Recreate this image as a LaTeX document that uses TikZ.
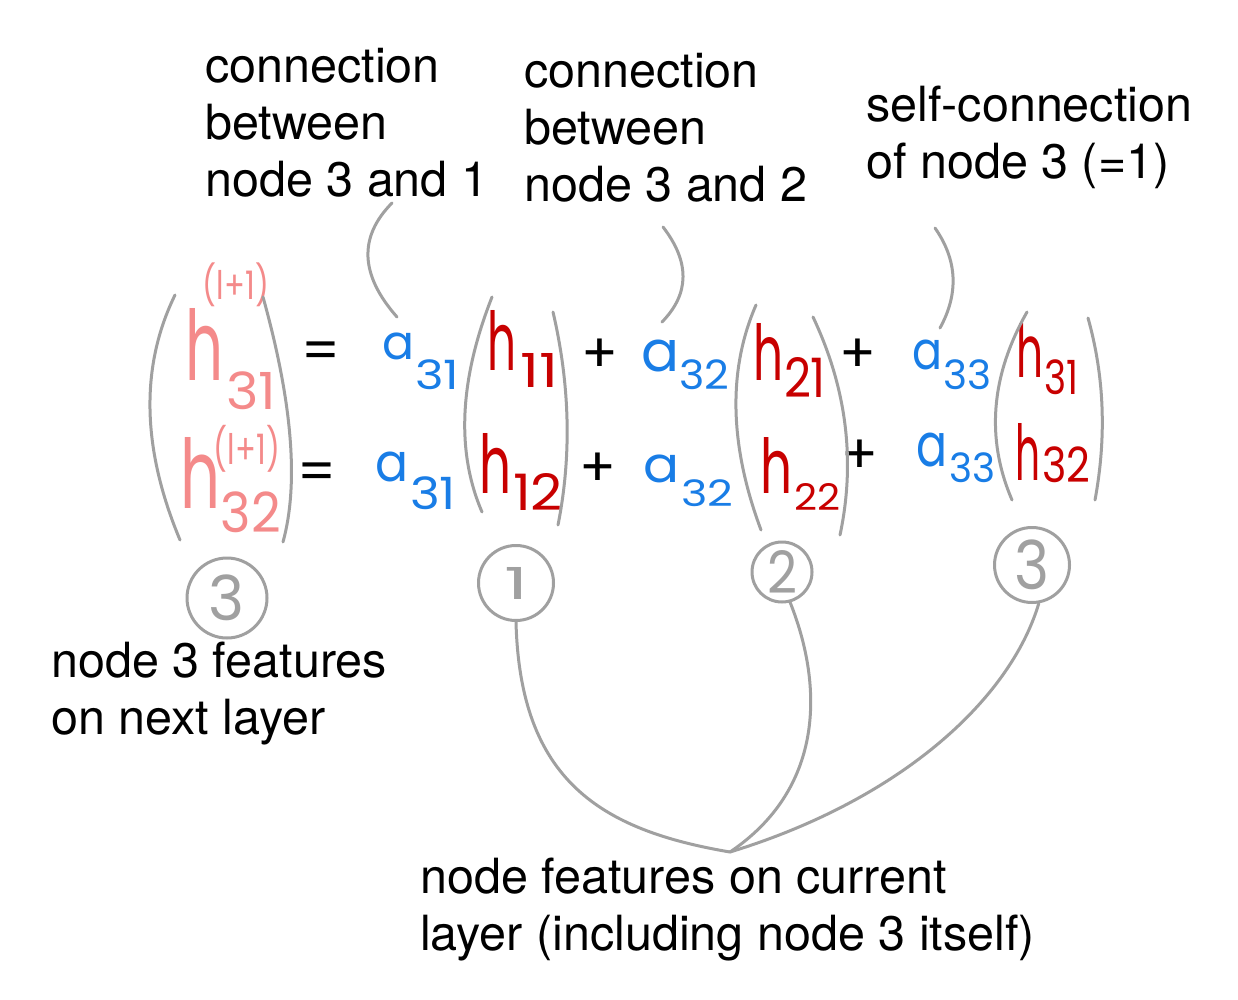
\documentclass[tikz,border=0pt]{standalone}
\usepackage{fontspec}
\usepackage{graphicx}
\newfontfamily\labelfont{TeX Gyre Heros}
\newfontfamily\handfont{Poppins}
\definecolor{pinkh}{RGB}{244,138,138}
\definecolor{blueh}{RGB}{25,125,230}
\definecolor{redh}{RGB}{200,0,0}
\definecolor{grayl}{RGB}{160,160,160}
\newcommand\hwbox[3]{\resizebox*{#1pt}{#2pt}{\handfont #3}}
\begin{document}
\begin{tikzpicture}[x=1pt,y=-1pt,
  lbl/.style={font=\labelfont\fontsize{48.5}{57}\selectfont, align=left, anchor=base west, inner sep=0pt},
  hw/.style={inner sep=0pt, anchor=center},
  sym/.style={inner sep=0pt, anchor=center, font=\handfont\fontsize{54}{54}\selectfont},
  gline/.style={draw=grayl, line width=3pt, line cap=round},
  circ/.style={draw=grayl, line width=3pt, circle, inner sep=0pt, text=grayl}]
\fill[white] (0,0) rectangle (1238,1000);
\path[use as bounding box] (0,0) rectangle (1238,1000);

% labels (anchor = baseline of the last line)
\node[lbl] (L1) at (205,197) {connection\\between\\node 3 and 1};
\node[lbl] (L2) at (524,202) {connection\\between\\node 3 and 2};
\node[lbl] (L3) at (866,179) {self-connection\\of node 3 (=1)};
\node[lbl] (L4) at (51,734) {node 3 features\\on next layer};
\node[lbl] (L5) at (420,950) {node features on current\\layer (including node 3 itself)};

% pink column h^{(l+1)}
\node[hw, text=pinkh] (ph1) at (205,344) {\hwbox{38}{72}{h}};
\node[hw, text=pinkh] (ps1) at (251,391) {\hwbox{50}{38}{31}};
\node[hw, text=pinkh] (pu1) at (236,285) {\hwbox{66}{44}{(l+1)}};
\node[hw, text=pinkh] (ph2) at (201,472.5) {\hwbox{40}{71}{h}};
\node[hw, text=pinkh] (ps2) at (251,512.5) {\hwbox{60}{41}{32}};
\node[hw, text=pinkh] (pu2) at (247,448.5) {\hwbox{66}{47}{(l+1)}};

% equals and plus
\node[sym] (eq1) at (321,356) {=};
\node[sym] (eq2) at (317.5,477) {=};
\node[sym] (pl1) at (599.5,356) {+};
\node[sym] (pl2) at (858,356) {+};
\node[sym] (pl3) at (597.5,470) {+};
\node[sym] (pl4) at (859.5,457) {+};

% blue coefficients
\node[hw, text=blueh] (a1) at (398,346.5) {\hwbox{32}{27}{a}};
\node[hw, text=blueh] (a1s) at (437,375) {\hwbox{44}{30}{31}};
\node[hw, text=blueh] (a2) at (392,467) {\hwbox{33}{30}{a}};
\node[hw, text=blueh] (a2s) at (433,493.5) {\hwbox{46}{33}{31}};
\node[hw, text=blueh] (a3) at (660,356) {\hwbox{38}{32}{a}};
\node[hw, text=blueh] (a3s) at (704,375) {\hwbox{50}{30}{32}};
\node[hw, text=blueh] (a4) at (661,469) {\hwbox{36}{28}{a}};
\node[hw, text=blueh] (a4s) at (707,493.5) {\hwbox{52}{27}{32}};
\node[hw, text=blueh] (a5) at (927,355) {\hwbox{30}{30}{a}};
\node[hw, text=blueh] (a5s) at (967,375) {\hwbox{48}{30}{33}};
\node[hw, text=blueh] (a6) at (932,450) {\hwbox{31}{34}{a}};
\node[hw, text=blueh] (a6s) at (972,468) {\hwbox{46}{30}{33}};

% red current-layer features
\node[hw, text=redh] (r1) at (501.5,340) {\hwbox{29}{60}{h}};
\node[hw, text=redh] (r1s) at (539.5,370) {\hwbox{38}{34}{11}};
\node[hw, text=redh] (r2) at (495,463) {\hwbox{32}{60}{h}};
\node[hw, text=redh] (r2s) at (538,491.5) {\hwbox{50}{37}{12}};
\node[hw, text=redh] (r3) at (768,351.5) {\hwbox{30}{57}{h}};
\node[hw, text=redh] (r3s) at (805,377) {\hwbox{42}{40}{21}};
\node[hw, text=redh] (r4) at (776,465) {\hwbox{32}{56}{h}};
\node[hw, text=redh] (r4s) at (817,496.5) {\hwbox{46}{27}{22}};
\node[hw, text=redh] (r5) at (1030,350) {\hwbox{27}{54}{h}};
\node[hw, text=redh] (r5s) at (1061,377.5) {\hwbox{34}{35}{31}};
\node[hw, text=redh] (r6) at (1028,451.5) {\hwbox{25}{57}{h}};
\node[hw, text=redh] (r6s) at (1066,465) {\hwbox{48}{36}{32}};

% parentheses
\draw[gline] (175,295) .. controls (140,366.7) and (141.7,448.3) .. (180,540);
\draw[gline] (263,297) .. controls (292.3,402) and (299,483.7) .. (283,542);
\draw[gline] (492,297) .. controls (459.3,380) and (456,451.7) .. (482,512);
\draw[gline] (553,312) .. controls (570,385) and (571.7,456) .. (558,525);
\draw[gline] (756,305) .. controls (727.7,370) and (729.3,445) .. (761,530);
\draw[gline] (813,317) .. controls (846.7,388.3) and (855.7,461) .. (840,535);
\draw[gline] (1027,312) .. controls (990.7,376) and (985.7,438.7) .. (1012,500);
\draw[gline] (1088,318) .. controls (1104.3,376) and (1106.7,436.7) .. (1095,500);

% connectors from labels to coefficients
\coordinate (t1a) at (392,203);
\coordinate (t1b) at (397,317);
\coordinate (t2a) at (663,227);
\coordinate (t2b) at (662,322);
\coordinate (t3a) at (935,228);
\coordinate (t3b) at (940,328);
\draw[gline] (t1a) .. controls (358.3,237) and (360,275) .. (t1b);
\draw[gline] (t2a) .. controls (690,262) and (689.7,293.7) .. (t2b);
\draw[gline] (t3a) .. controls (957.3,260) and (959,293.3) .. (t3b);

% node circles
\node[circ, minimum size=80pt] (n3) at (227,598) {\hwbox{36}{46}{3}};
\node[circ, minimum size=75pt] (c1) at (516,583) {\hwbox{24}{32}{1}};
\node[circ, minimum size=60pt] (c2) at (782,572) {\hwbox{30}{43}{2}};
\node[circ, minimum size=75pt] (c3) at (1032,565) {\hwbox{35}{50}{3}};

% connectors to the bottom label
\coordinate (meet) at (730,852);
\draw[gline] (c1.south) .. controls (520,780) and (600,830) .. (meet);
\draw[gline] (c2.-75) .. controls (825,690) and (822,790) .. (meet);
\draw[gline] (c3.-80) .. controls (1010,700) and (900,800) .. (meet);
\end{tikzpicture}
\end{document}
